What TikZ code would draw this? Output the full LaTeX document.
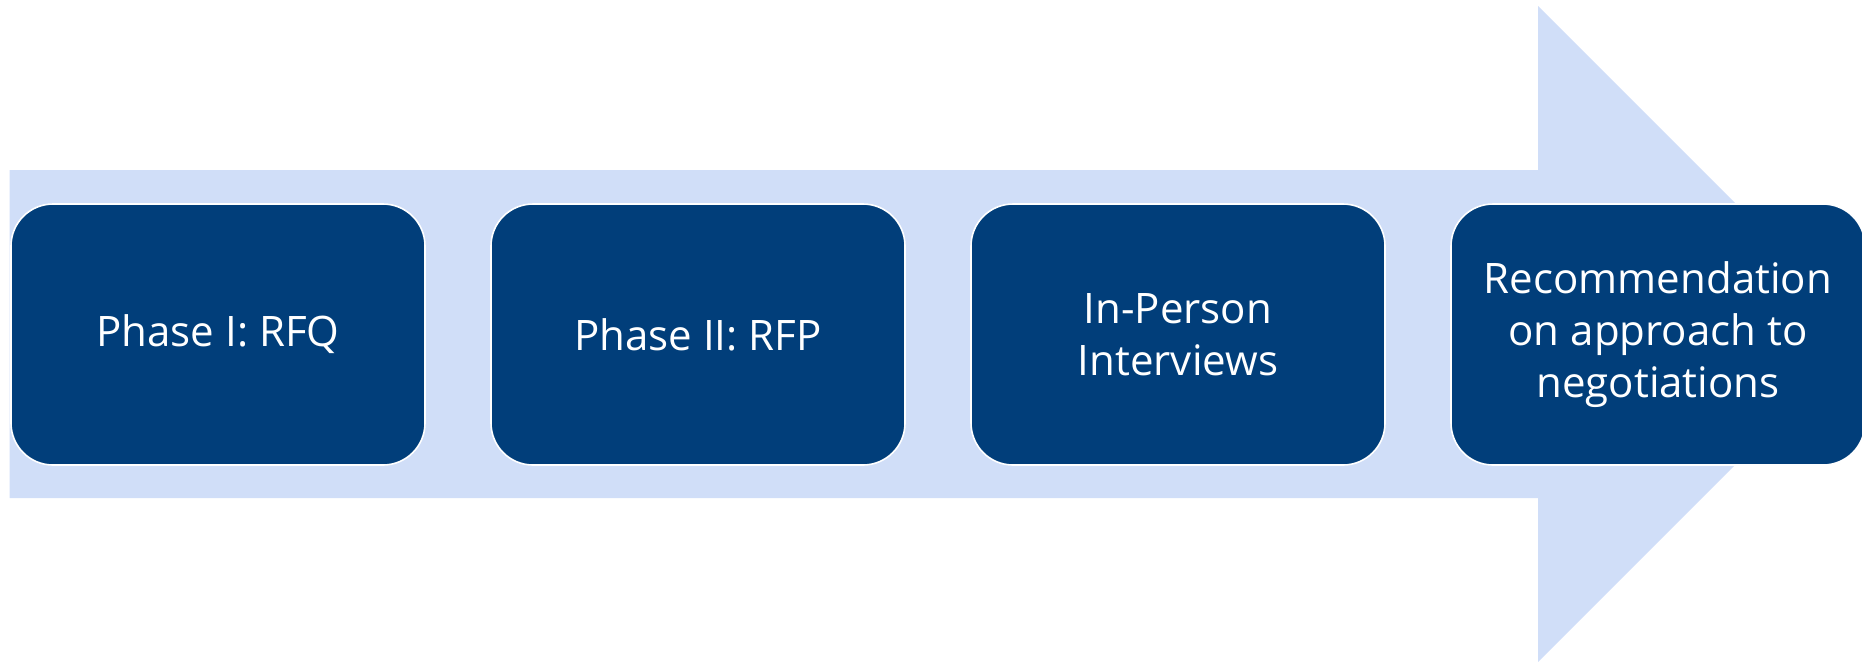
\documentclass[tikz,border=0pt]{standalone}
\usepackage{fontspec}
\setmainfont{Open Sans}
\definecolor{arrowfill}{HTML}{D0DEF8}
\definecolor{boxfill}{HTML}{013E7A}
\begin{document}
\begin{tikzpicture}[x=0.5pt,y=-0.5pt,
  phasebox/.style={draw=white, line width=0.8pt, fill=boxfill,
    rounded corners=21pt, minimum width=207pt, minimum height=130.5pt,
    inner sep=0pt, text=white, align=center,
    font=\fontsize{21}{26}\selectfont}]
  \useasboundingbox (0,0) rectangle (1862,661);
  \clip (0,0) rectangle (1862,661);
  % background block arrow
  \fill[arrowfill] (9.5,170) -- (1538,170) -- (1538,6) -- (1866,334)
    -- (1538,662) -- (1538,498) -- (9.5,498) -- cycle;
  % phase boxes
  \node[phasebox] (p1) at (218,334.5) {Phase I: RFQ};
  \node[phasebox] (p2) at (698,334.5) {Phase II: RFP};
  \node[phasebox] (p3) at (1178,334.5) {In-Person\\Interviews};
  \node[phasebox] (p4) at (1658,334.5) {Recommendation\\on approach to\\negotiations};
\end{tikzpicture}
\end{document}
